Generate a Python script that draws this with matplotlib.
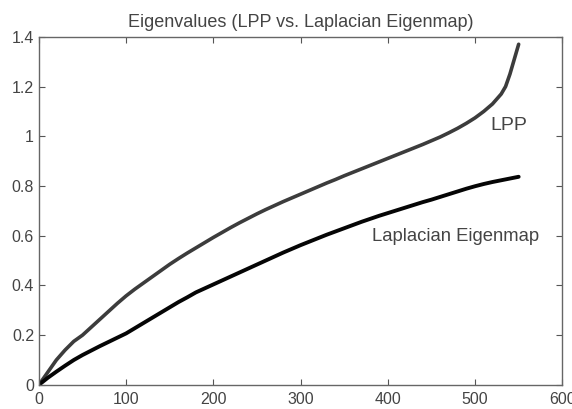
#!/usr/bin/env python3

import numpy as np
import matplotlib.pyplot as plt

plt.rcParams['font.family'] = ['Liberation Sans', 'DejaVu Sans']

# eigenvalue index (every 10 steps)
idx = [0, 10, 20, 30, 40, 50, 60, 70, 80, 90, 100, 110, 120, 130, 140, 150,
       160, 170, 180, 190, 200, 210, 220, 230, 240, 250, 260, 270, 280, 290,
       300, 310, 320, 330, 340, 350, 360, 370, 380, 390, 400, 410, 420, 430,
       440, 450, 460, 470, 480, 490, 500, 510, 520, 530, 535, 540, 545, 550]

lpp = [0.0, 0.05, 0.10, 0.14, 0.175, 0.20, 0.232, 0.264, 0.296, 0.328, 0.358,
       0.385, 0.41, 0.435, 0.46, 0.485, 0.508, 0.53, 0.551, 0.572, 0.593,
       0.613, 0.633, 0.652, 0.67, 0.688, 0.705, 0.721, 0.737, 0.752, 0.767,
       0.782, 0.797, 0.812, 0.826, 0.841, 0.855, 0.869, 0.883, 0.897, 0.911,
       0.925, 0.939, 0.953, 0.967, 0.982, 0.997, 1.014, 1.032, 1.052, 1.074,
       1.10, 1.13, 1.17, 1.20, 1.25, 1.31, 1.37]

idx_le = [0, 10, 20, 30, 40, 50, 60, 70, 80, 90, 100, 110, 120, 130, 140, 150,
          160, 170, 180, 190, 200, 210, 220, 230, 240, 250, 260, 270, 280, 290,
          300, 310, 320, 330, 340, 350, 360, 370, 380, 390, 400, 410, 420, 430,
          440, 450, 460, 470, 480, 490, 500, 510, 520, 530, 540, 550]

lap = [0.0, 0.028, 0.053, 0.077, 0.10, 0.12, 0.138, 0.156, 0.173, 0.19, 0.207,
       0.228, 0.249, 0.27, 0.291, 0.312, 0.333, 0.352, 0.372, 0.388, 0.404,
       0.42, 0.436, 0.452, 0.468, 0.484, 0.5, 0.516, 0.532, 0.547, 0.562,
       0.576, 0.59, 0.604, 0.617, 0.63, 0.643, 0.656, 0.668, 0.68, 0.691,
       0.702, 0.713, 0.724, 0.735, 0.745, 0.756, 0.767, 0.778, 0.789, 0.799,
       0.808, 0.816, 0.823, 0.83, 0.837]

xticks = [0, 100, 200, 300, 400, 500, 600]
yticks = [0, 0.2, 0.4, 0.6, 0.8, 1, 1.2, 1.4]
yticklabels = ['0', '0.2', '0.4', '0.6', '0.8', '1', '1.2', '1.4']

fig = plt.figure(figsize=(5.72, 4.09), dpi=100)
ax = fig.add_axes([0.068, 0.059, 0.915, 0.851])

ax.plot(idx, lpp, color='#3c3c3c', lw=2.6, solid_capstyle='round')
ax.plot(idx_le, lap, color='#050505', lw=2.8, solid_capstyle='round')

ax.text(517, 1.045, 'LPP', fontsize=14, color='#444444', va='center')
ax.text(382, 0.595, 'Laplacian Eigenmap', fontsize=13.3, color='#444444', va='center')

ax.set_xlim(0, 600)
ax.set_ylim(0, 1.4)
ax.set_xticks(xticks)
ax.set_yticks(yticks)
ax.set_yticklabels(yticklabels)
ax.tick_params(direction='in', top=True, right=True, length=4, width=0.8,
               labelsize=11.5, colors='#555555', labelcolor='#444444')
ax.tick_params(axis='x', pad=5)
ax.tick_params(axis='y', pad=3.5)
for s in ax.spines.values():
    s.set_color('#666666')
    s.set_linewidth(1.0)

ax.set_title('Eigenvalues (LPP vs. Laplacian Eigenmap)', fontsize=13,
             color='#444444', pad=7)

fig.savefig('out.png', dpi=100)
